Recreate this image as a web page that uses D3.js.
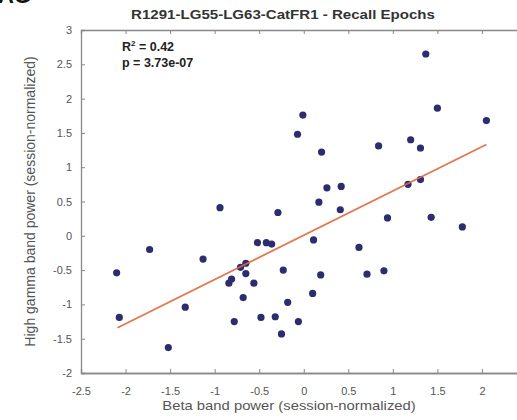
<!DOCTYPE html>
<html lang="en">
<head>
<meta charset="utf-8">
<title>recall epochs scatter</title>
<script src="https://d3js.org/d3.v7.min.js"></script>
<style>
  body{margin:0;background:#fff;font-family:"Liberation Sans",Arial,sans-serif;}
  .tick text{fill:#555;font-size:11px;}
</style>
</head>
<body>
<div id="chart"></div>
<script>
// beta power (x) vs high gamma power (y)
var betaPower = [1.37, 1.50, 2.05, -0.01, -0.07, 0.20, 0.84, 1.20, 1.31, 0.26,
                 0.42, 0.17, 0.41, 1.17, 1.31, 0.94, 1.43, 1.78, 0.11, -0.94,
                 -0.29, -2.10, -2.07, -1.73, -1.52, -1.33, -1.13, -0.84, -0.81, -0.78,
                 -0.68, -0.71, -0.65, -0.65, -0.56, -0.52, -0.42, -0.36, -0.48, -0.32,
                 -0.25, -0.23, -0.18, -0.06, 0.62, 0.19, 0.71, 0.90, 0.10]
var gammaPower = [2.65, 1.86, 1.68, 1.76, 1.48, 1.22, 1.31, 1.40, 1.28, 0.70,
                  0.72, 0.49, 0.38, 0.75, 0.82, 0.26, 0.27, 0.13, -0.06, 0.41,
                  0.34, -0.54, -1.19, -0.20, -1.63, -1.04, -0.34, -0.69, -0.63, -1.25,
                  -0.90, -0.46, -0.40, -0.55, -0.69, -0.10, -0.10, -0.12, -1.19, -1.18,
                  -1.43, -0.50, -0.97, -1.25, -0.17, -0.57, -0.56, -0.51, -0.84]
// least squares fit end points
var fitX = [-2.09, 2.05]
var fitY = [-1.34, 1.33]
var xTicks = [-2.5, -2, -1.5, -1, -0.5, 0, 0.5, 1, 1.5, 2, 2.5]
var xTickLabels = [-2.5, -2, -1.5, -1, -0.5, 0, 0.5, 1, 1.5, 2]
var yTicks = [-2, -1.5, -1, -0.5, 0, 0.5, 1, 1.5, 2, 2.5, 3]
var stats = ["R", "p = 3.73e-07"]

var w = 517, h = 420
var svg = d3.select("#chart").append("svg").attr("width", w).attr("height", h)

var x = d3.scaleLinear().domain([-2.5, 2.5]).range([81, 526.5])
var y = d3.scaleLinear().domain([-2, 3]).range([373, 30])

// panel letter, mostly cut off by the top edge
svg.append("text").attr("x", -2).attr("y", 3)
  .attr("font-size", 22).attr("font-weight", "bold").attr("fill", "#111")
  .text("AG")

var fmt = function(d){ return String(d) }

svg.append("g").attr("transform", "translate(0," + y(-2) + ")")
  .call(d3.axisBottom(x).tickValues(xTickLabels).tickSize(0).tickPadding(14).tickFormat(fmt))
svg.append("g").attr("transform", "translate(0," + y(-2) + ")")
  .call(d3.axisBottom(x).tickValues(xTicks).tickSize(-4).tickFormat(""))
svg.append("g").attr("transform", "translate(0," + y(3) + ")")
  .call(d3.axisTop(x).tickValues(xTicks).tickSize(-4).tickFormat(""))
svg.append("g").attr("transform", "translate(" + x(-2.5) + ",0)")
  .call(d3.axisLeft(y).tickValues(yTicks).tickSize(-4).tickPadding(9).tickFormat(fmt))

svg.selectAll(".domain").attr("stroke", "#888").attr("stroke-width", 1.3)
svg.selectAll(".tick line").attr("stroke", "#888")
svg.selectAll(".tick text").attr("font-family", "Liberation Sans, Arial, sans-serif")

// title
svg.append("text").attr("transform", "translate(283,19) scale(1.16,1)")
  .attr("text-anchor", "middle")
  .attr("font-size", 13).attr("font-weight", "bold").attr("fill", "#333")
  .text("R1291-LG55-LG63-CatFR1 - Recall Epochs")

// axis labels
svg.append("text").attr("transform", "translate(289,410) scale(1.14,1)")
  .attr("text-anchor", "middle")
  .attr("font-size", 13).attr("fill", "#555")
  .text("Beta band power (session-normalized)")
svg.append("text").attr("transform", "translate(35," + y(0.5) + ") rotate(-90)")
  .attr("text-anchor", "middle").attr("font-size", 14).attr("fill", "#555")
  .text("High gamma band power (session-normalized)")

// stats
var st = svg.append("text").attr("x", 122).attr("y", 51)
  .attr("font-size", 12.5).attr("font-weight", "bold").attr("fill", "#222")
st.append("tspan").text(stats[0])
st.append("tspan").attr("dy", -5).attr("font-size", 8).text("2")
st.append("tspan").attr("dy", 5).text(" = 0.42")
svg.append("text").attr("x", 122).attr("y", 67)
  .attr("font-size", 12.5).attr("font-weight", "bold").attr("fill", "#222")
  .text(stats[1])

// points
svg.append("g").selectAll("circle")
  .data(d3.range(betaPower.length))
  .enter().append("circle")
  .attr("cx", function(i){ return x(betaPower[i]) })
  .attr("cy", function(i){ return y(gammaPower[i]) })
  .attr("r", 3.6)
  .attr("fill", "#2b2d6e")

// fit line
svg.append("line")
  .attr("x1", x(fitX[0])).attr("y1", y(fitY[0]))
  .attr("x2", x(fitX[1])).attr("y2", y(fitY[1]))
  .attr("stroke", "#de6a3e").attr("stroke-width", 1.8).attr("opacity", 0.9)
</script>
</body>
</html>
